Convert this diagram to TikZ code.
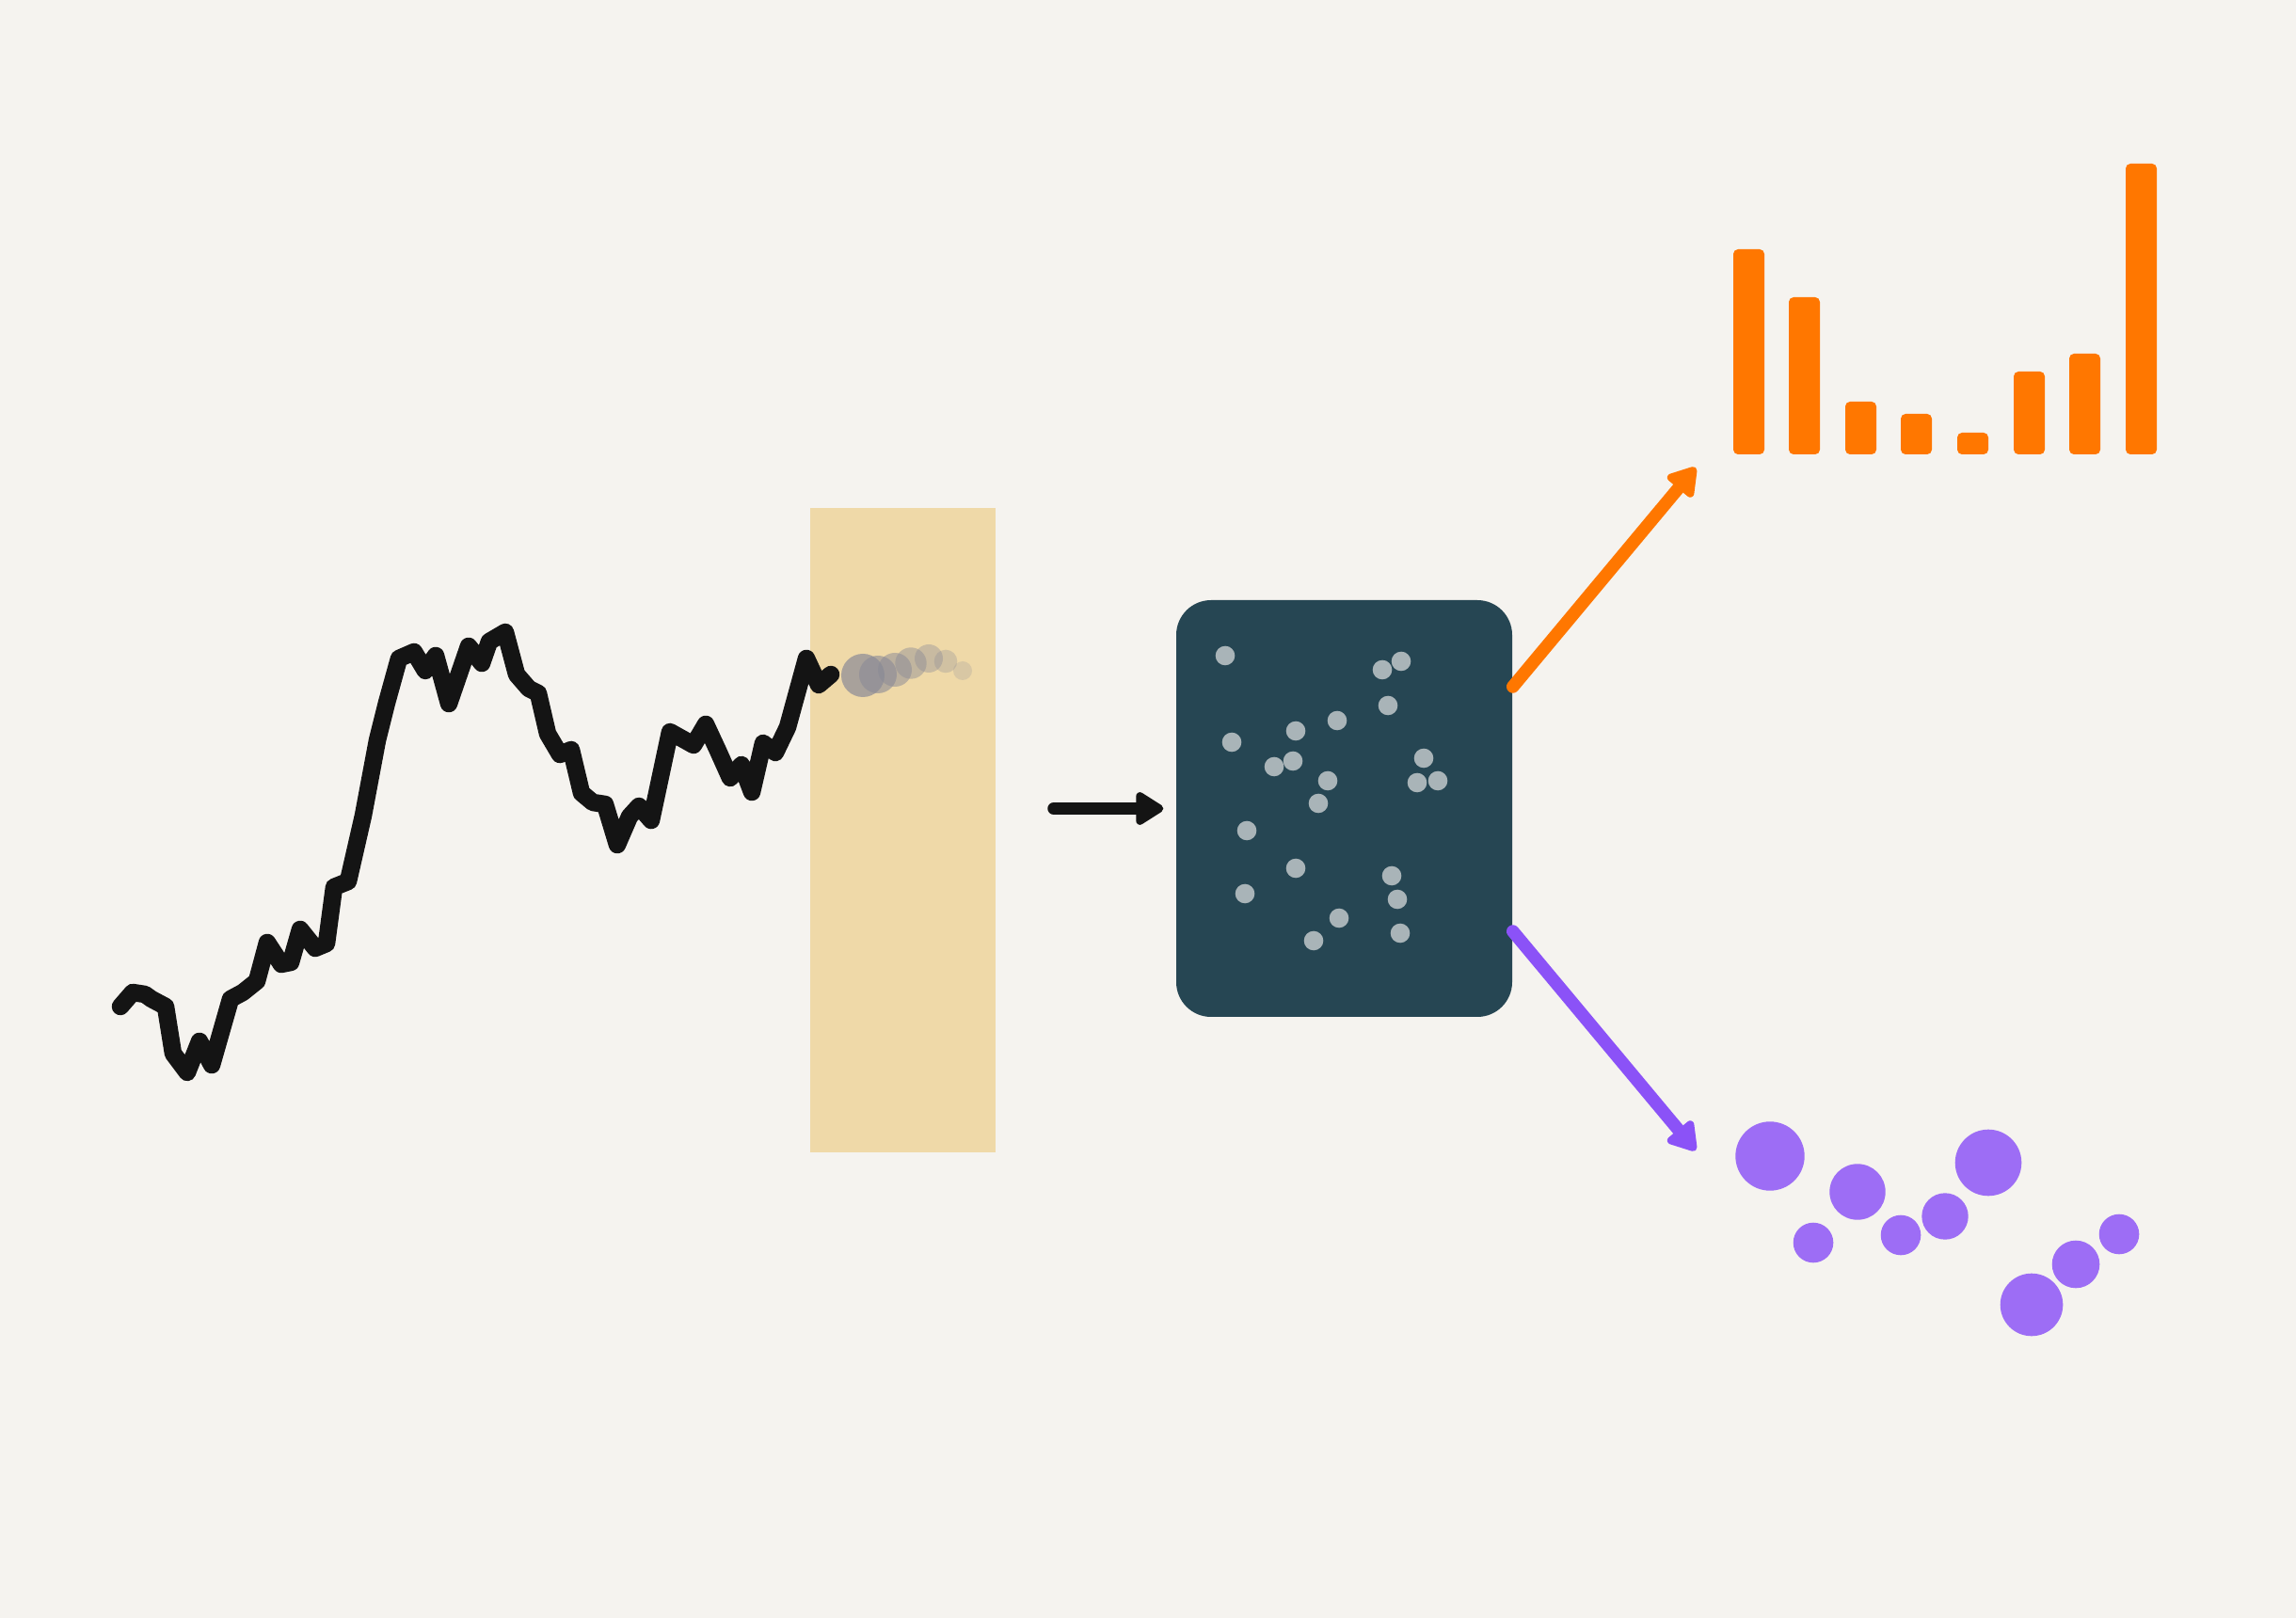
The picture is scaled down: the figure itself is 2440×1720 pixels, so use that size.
\documentclass[tikz,border=0pt]{standalone}
\usetikzlibrary{arrows.meta}
\definecolor{bgc}{HTML}{F5F3EF}
\definecolor{tanc}{HTML}{EFD9A8}
\definecolor{boxc}{HTML}{264653}
\definecolor{dotc}{HTML}{A9B4B8}
\definecolor{orangec}{HTML}{FF7700}
\definecolor{purplec}{HTML}{8B52F7}
\definecolor{purpledot}{HTML}{9D6DF5}
\definecolor{inkc}{HTML}{141414}
\definecolor{ghostc}{RGB}{138,138,150}
\tikzset{
  chartline/.style={draw=inkc, line width=1.85mm, line cap=round, line join=round},
  flowarrow/.style={line width=1.35mm, line cap=round, -{Triangle[length=3.3mm,width=3.9mm,round]}},
  bar/.style={fill=orangec, rounded corners=0.5mm},
  boxdot/.style={fill=dotc},
  cluster/.style={fill=purpledot},
  ghost/.style={fill=ghostc}
}
\begin{document}
\begin{tikzpicture}[x=0.1mm,y=-0.1mm]
\useasboundingbox (0,0) rectangle (2440,1720);
\fill[bgc] (0,0) rectangle (2440,1720);
% window
\node[fill=tanc, inner sep=0, minimum width=19.75mm, minimum height=68.5mm] (window) at (959.25,882.5) {};
% chart
\draw[chartline] plot coordinates {(128,1070) (141,1055) (154,1057) (161,1062) (176,1070) (184,1120) (199,1140) (212,1107) (225,1132) (245,1062) (258,1055) (273,1043) (284,1002) (299,1025) (309,1023) (319,988) (335,1008) (347,1003) (355,943) (370,937) (386,867) (401,787) (411,747) (424,700) (440,693) (452,713) (463,697) (477,748) (498,687) (512,705) (520,682) (537,672) (549,717) (562,732) (572,737) (582,780) (595,802) (607,797) (618,843) (630,853) (643,855) (656,898) (669,868) (679,857) (692,872) (712,778) (737,792) (750,770) (763,798) (776,827) (788,813) (799,842) (811,790) (824,800) (837,773) (857,700) (870,728) (883,717)};
% forecast ghosts
\fill[ghost, opacity=0.7] (917,718) circle[radius=2.3mm];
\fill[ghost, opacity=0.6] (933,717) circle[radius=2.0mm];
\fill[ghost, opacity=0.52] (951,712) circle[radius=1.8mm];
\fill[ghost, opacity=0.45] (968,705) circle[radius=1.67mm];
\fill[ghost, opacity=0.38] (987,700) circle[radius=1.5mm];
\fill[ghost, opacity=0.3] (1005,703) circle[radius=1.23mm];
\fill[ghost, opacity=0.22] (1023,713) circle[radius=1.0mm];
% model box
\node[fill=boxc, rounded corners=3.7mm, inner sep=0, minimum width=35.7mm, minimum height=44.3mm] (model) at (1428.5,859.5) {};
\foreach \x/\y in {1302/697, 1469/712, 1489/703, 1475/750, 1421/766, 1377/777, 1309/789, 1354/815, 1374/809, 1411/830, 1401/854, 1513/806, 1506/832, 1528/830, 1325/883, 1377/923, 1323/950, 1479/931, 1485/956, 1423/976, 1396/1000, 1488/992}
  \fill[boxdot] (\x,\y) circle[radius=1.03mm];
% arrows
\coordinate (a0) at (1120,859.5);
\draw[flowarrow, draw=inkc, fill=inkc] (a0) -- ([xshift=-1.3mm]model.west);
\coordinate (oe) at (1802,497);
\coordinate (pe) at (1802,1223);
\draw[flowarrow, draw=orangec, fill=orangec] ([yshift=12.95mm]model.east) -- (oe);
\draw[flowarrow, draw=purplec, fill=purplec] ([yshift=-13.05mm]model.east) -- (pe);
% bars
\foreach \x/\t in {1842/265, 1901/316, 1961/427, 2020/440, 2080/460, 2140/395, 2199/376, 2259/174}
  \fill[bar] (\x,\t) rectangle ++(33,483-\t);
% clusters
\fill[cluster] (1881,1229) circle[radius=3.67mm];
\fill[cluster] (1974,1267) circle[radius=2.97mm];
\fill[cluster] (1927,1321) circle[radius=2.13mm];
\fill[cluster] (2020,1313) circle[radius=2.13mm];
\fill[cluster] (2067,1293) circle[radius=2.47mm];
\fill[cluster] (2113,1236) circle[radius=3.53mm];
\fill[cluster] (2252,1312) circle[radius=2.13mm];
\fill[cluster] (2206,1344) circle[radius=2.53mm];
\fill[cluster] (2159,1387) circle[radius=3.33mm];
\end{tikzpicture}
\end{document}
